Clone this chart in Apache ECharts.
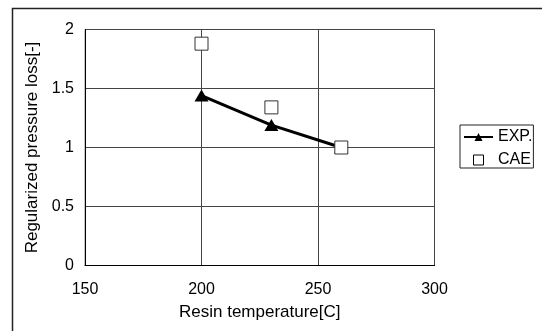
<!DOCTYPE html>
<html><head><meta charset="utf-8">
<script src="https://cdn.jsdelivr.net/npm/echarts@6/dist/echarts.min.js"></script>
<style>html,body{margin:0;padding:0;background:#fff}#c{width:542px;height:331px}</style>
</head><body><div id="c"></div>
<script>
const temps = [200, 230, 260];
const expValues = [1.44, 1.19, 1.0];
const caeValues = [1.88, 1.34, 1.0];
const seriesNames = ['EXP.', 'CAE'];
const xTitle = 'Resin temperature[C]';
const yTitle = 'Regularized pressure loss[-]';

const font = 'Liberation Sans, Arial, sans-serif';
const chart = echarts.init(document.getElementById('c'), null, {renderer:'canvas'});
chart.setOption({
  animation: false,
  backgroundColor: '#fff',
  graphic: [{type:'rect', shape:{x:12.5, y:8.5, width:600, height:400}, style:{fill:'none', stroke:'#222', lineWidth:1.5}, z:-1}],
  grid: {left:85, right:107.5, top:29.5, bottom:65.5, show:true, borderColor:'#888', borderWidth:1},
  legend: {
    orient:'vertical', left:460, top:125, borderColor:'#222', borderWidth:1,
    padding:[4,1,0,3], itemGap:7, itemWidth:29, itemHeight:10,
    symbolKeepAspect:true,
    textStyle:{fontFamily:font, fontSize:16, color:'#000'},
    data:[{name:'EXP.'},{name:'CAE', icon:'path://M0,0L10,0L10,10L0,10Z', itemStyle:{color:'#fff', borderColor:'#000', borderWidth:1, opacity:1}}]
  },
  xAxis: {
    type:'value', min:150, max:300, interval:50,
    name:xTitle, nameLocation:'middle', nameGap:38,
    nameTextStyle:{fontFamily:font, fontSize:17, color:'#000'},
    axisLine:{show:true, lineStyle:{color:'#000', width:1}},
    axisTick:{show:false},
    axisLabel:{fontFamily:font, fontSize:16, color:'#000', margin:16},
    splitLine:{show:true, lineStyle:{color:'#444', width:1}}
  },
  yAxis: {
    type:'value', min:0, max:2, interval:0.5,
    name:yTitle, nameLocation:'middle', nameGap:40,
    nameTextStyle:{fontFamily:font, fontSize:17, color:'#000'},
    axisLine:{show:true, lineStyle:{color:'#000', width:1}},
    axisTick:{show:false},
    axisLabel:{fontFamily:font, fontSize:16, color:'#000', margin:11},
    splitLine:{show:true, lineStyle:{color:'#444', width:1}}
  },
  series: [
    {name:seriesNames[0], type:'line', data:temps.map((t,i)=>[t, expValues[i]]),
     symbol:'triangle', symbolSize:[14,12], lineStyle:{color:'#000', width:3},
     itemStyle:{color:'#000'}, z:3},
    {name:seriesNames[1], type:'scatter', data:temps.map((t,i)=>[t, caeValues[i]]),
     symbol:'rect', symbolSize:13,
     itemStyle:{color:'#fff', borderColor:'#333', borderWidth:1, opacity:1}, z:4}
  ]
});
</script></body></html>
